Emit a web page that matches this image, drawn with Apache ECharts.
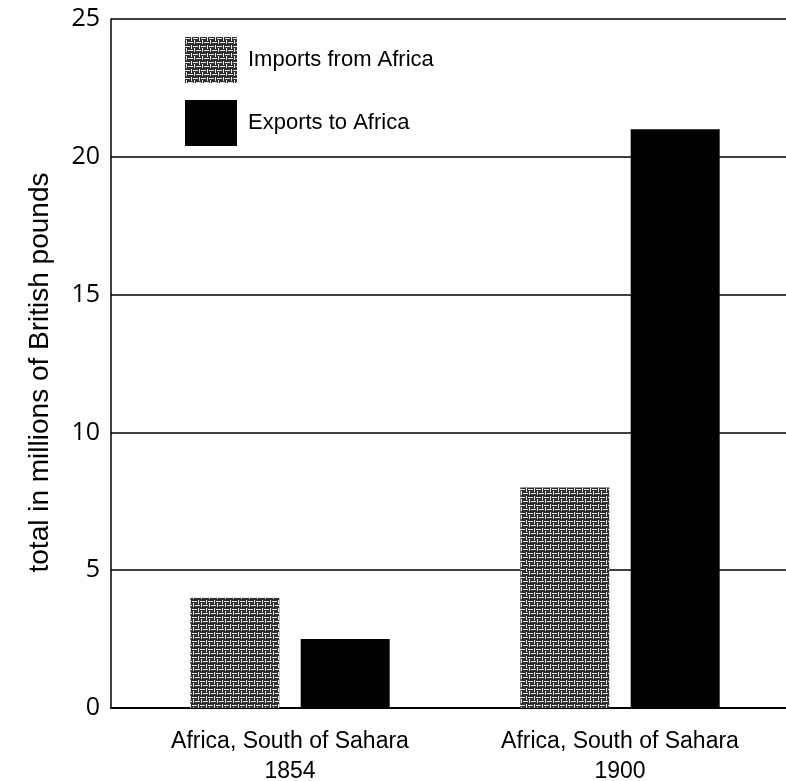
<!DOCTYPE html>
<html>
<head>
<meta charset="utf-8">
<script src="https://cdn.jsdelivr.net/npm/echarts@6/dist/echarts.min.js"></script>
<style>html,body{margin:0;padding:0;background:#fff}#c{width:786px;height:781px}</style>
</head>
<body>
<div id="c"></div>
<script>
var categories = ['Africa, South of Sahara\n1854', 'Africa, South of Sahara\n1900'];
var seriesNames = ['Imports from Africa', 'Exports to Africa'];
var importsValues = [4, 8];
var exportsValues = [2.5, 21];
var yTicks = [0, 5, 10, 15, 20, 25];

// texture for imports
var cv = document.createElement('canvas');
cv.width = 8; cv.height = 8;
var ctx = cv.getContext('2d');
ctx.fillStyle = '#2e2e2e';
ctx.fillRect(0, 0, 8, 8);
ctx.fillStyle = '#e8e8e8';
ctx.fillRect(0, 1, 5, 1);
ctx.fillRect(3, 5, 5, 1);
ctx.fillRect(6, 0, 1, 4);
ctx.fillRect(1, 3, 1, 4);
var patternColor = { image: cv, repeat: 'repeat' };

var yMin = yTicks[0], yMax = yTicks[yTicks.length - 1];

var chart = echarts.init(document.getElementById('c'), null, { renderer: 'canvas' });
chart.setOption({
  backgroundColor: '#fff',
  animation: false,
  grid: [
    { left: 111, right: 0, top: 19, bottom: 73, containLabel: false, outerBoundsMode: 'none' },
    { left: 125, right: 1, top: 19, bottom: 73, containLabel: false, outerBoundsMode: 'none' }
  ],
  legend: {
    orient: 'vertical', left: 180, top: 32,
    itemWidth: 52, itemHeight: 46, itemGap: 17,
    icon: 'rect',
    data: seriesNames,
    textStyle: { fontFamily: 'Liberation Sans', fontSize: 22, color: '#000', padding: [0, 0, 0, 6] }
  },
  xAxis: [
    {
      gridIndex: 0, type: 'category', data: categories,
      axisLine: { lineStyle: { color: '#000', width: 2 } },
      axisTick: { show: false }, axisLabel: { show: false }
    },
    {
      gridIndex: 1, type: 'category', data: categories,
      axisLine: { show: false }, axisTick: { show: false },
      axisLabel: { fontFamily: 'Liberation Sans', fontSize: 23, color: '#000', lineHeight: 30, margin: 19 }
    }
  ],
  yAxis: [
    {
      gridIndex: 0, type: 'value', min: yMin, max: yMax, interval: 5,
      name: 'total in millions of British pounds', nameLocation: 'middle', nameGap: 57,
      nameTextStyle: { fontFamily: 'Liberation Sans', fontSize: 28, color: '#000', padding: [0, 18, 0, 0] },
      axisLine: { show: true, lineStyle: { color: '#000', width: 1.5 } },
      axisTick: { show: false },
      axisLabel: { fontFamily: 'Open Sans', fontSize: 25, color: '#000', margin: 11 },
      splitLine: { show: true, showMinLine: true, showMaxLine: true, lineStyle: { color: '#000', width: 1.5 } }
    },
    {
      gridIndex: 1, type: 'value', min: yMin, max: yMax, interval: 5, show: false,
      splitLine: { show: false }
    }
  ],
  series: [
    { name: seriesNames[0], type: 'bar', xAxisIndex: 1, yAxisIndex: 1, data: importsValues,
      barWidth: 89, barGap: '24%', itemStyle: { color: patternColor } },
    { name: seriesNames[1], type: 'bar', xAxisIndex: 1, yAxisIndex: 1, data: exportsValues,
      barWidth: 89, itemStyle: { color: '#000' } }
  ]
});
</script>
</body>
</html>
